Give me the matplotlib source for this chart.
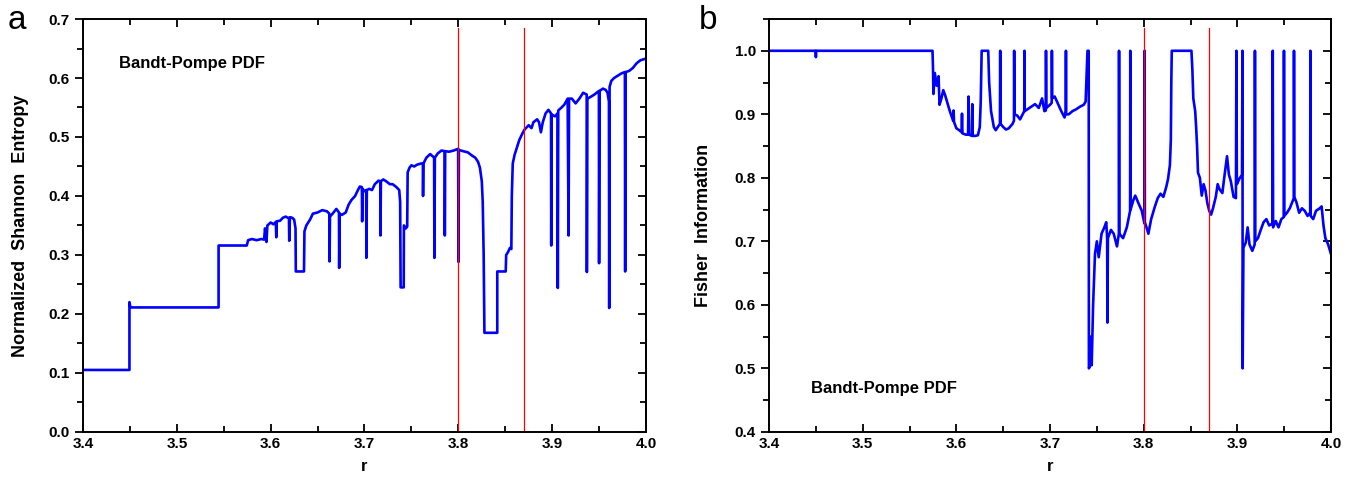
import numpy as np
import matplotlib
matplotlib.use('Agg')
import matplotlib.pyplot as plt
from matplotlib.ticker import MultipleLocator

plt.rcParams['font.family'] = ['Liberation Sans', 'DejaVu Sans']
plt.rcParams['font.weight'] = 'bold'

# DATOS
# panel a: entropia de Shannon normalizada
r_a = [3.400, 3.4495, 3.4495, 3.4505, 3.5445, 3.5445, 3.5745, 3.576, 3.580, 3.585,
       3.590, 3.593, 3.594, 3.5955, 3.5965, 3.600, 3.603, 3.6055, 3.6060, 3.6065,
       3.610, 3.613, 3.616, 3.6195, 3.6198, 3.6205, 3.623, 3.625, 3.6265, 3.6268,
       3.6355, 3.6360, 3.638, 3.642, 3.645, 3.650, 3.655, 3.660, 3.6625, 3.6628,
       3.6632, 3.666, 3.670, 3.6728, 3.6730, 3.6735, 3.676, 3.680, 3.683, 3.686,
       3.690, 3.693, 3.695, 3.6972, 3.6975, 3.6980, 3.700, 3.7018, 3.7020, 3.7025,
       3.705, 3.708, 3.711, 3.715, 3.7168, 3.7170, 3.7175, 3.720, 3.723, 3.727,
       3.730, 3.734, 3.737, 3.738, 3.7385, 3.7418, 3.742, 3.744, 3.7455, 3.746,
       3.748, 3.750, 3.753, 3.756, 3.760, 3.7622, 3.7624, 3.7628, 3.766, 3.770,
       3.7742, 3.7745, 3.7750, 3.778, 3.782, 3.7854, 3.7856, 3.7860, 3.790, 3.795,
       3.7998, 3.8002, 3.8006, 3.805, 3.810, 3.815, 3.818, 3.821, 3.823, 3.825,
       3.826, 3.827, 3.8278, 3.8415, 3.8415, 3.8505, 3.851, 3.853, 3.855, 3.8565,
       3.857, 3.858, 3.860, 3.862, 3.865, 3.868, 3.8703, 3.872, 3.875, 3.878,
       3.880, 3.884, 3.886, 3.888, 3.890, 3.893, 3.896, 3.8988, 3.8990, 3.8995,
       3.903, 3.9057, 3.9060, 3.9065, 3.910, 3.913, 3.9165, 3.9175, 3.9180, 3.921,
       3.925, 3.929, 3.933, 3.9368, 3.9370, 3.9375, 3.941, 3.945, 3.9498, 3.9500,
       3.9505, 3.954, 3.957, 3.959, 3.9605, 3.9608, 3.9612, 3.963, 3.966, 3.970,
       3.974, 3.9775, 3.9778, 3.9782, 3.982, 3.986, 3.990, 3.994, 4.000]
H_a = [0.105, 0.105, 0.220, 0.211, 0.211, 0.316, 0.316, 0.325, 0.327, 0.325,
       0.327, 0.326, 0.345, 0.322, 0.350, 0.355, 0.352, 0.356, 0.330, 0.357,
       0.358, 0.363, 0.365, 0.362, 0.324, 0.364, 0.363, 0.360, 0.345, 0.272,
       0.272, 0.340, 0.350, 0.360, 0.370, 0.372, 0.376, 0.374, 0.370, 0.289,
       0.365, 0.370, 0.378, 0.372, 0.278, 0.370, 0.368, 0.372, 0.385, 0.393,
       0.400, 0.410, 0.416, 0.415, 0.357, 0.412, 0.408, 0.410, 0.295, 0.410,
       0.412, 0.410, 0.420, 0.426, 0.425, 0.333, 0.425, 0.428, 0.425, 0.420,
       0.420, 0.415, 0.410, 0.390, 0.245, 0.245, 0.350, 0.345, 0.348, 0.440,
       0.448, 0.452, 0.450, 0.453, 0.455, 0.455, 0.400, 0.455, 0.465, 0.471,
       0.465, 0.295, 0.465, 0.472, 0.477, 0.476, 0.333, 0.476, 0.475, 0.477,
       0.480, 0.288, 0.478, 0.476, 0.474, 0.468, 0.465, 0.458, 0.448, 0.425,
       0.390, 0.300, 0.168, 0.168, 0.272, 0.272, 0.300, 0.305, 0.312, 0.310,
       0.400, 0.455, 0.470, 0.480, 0.495, 0.505, 0.512, 0.515, 0.520, 0.515,
       0.525, 0.530, 0.525, 0.508, 0.525, 0.540, 0.546, 0.540, 0.316, 0.538,
       0.535, 0.540, 0.244, 0.545, 0.550, 0.555, 0.565, 0.333, 0.565, 0.565,
       0.557, 0.565, 0.575, 0.572, 0.271, 0.565, 0.568, 0.572, 0.578, 0.286,
       0.578, 0.582, 0.580, 0.575, 0.560, 0.210, 0.585, 0.595, 0.600, 0.604,
       0.608, 0.610, 0.272, 0.610, 0.612, 0.617, 0.625, 0.630, 0.633]

# panel b: informacion de Fisher
r_b = [3.400, 3.4498, 3.4500, 3.4502, 3.5745, 3.5750, 3.5755, 3.577, 3.579, 3.581,
       3.582, 3.584, 3.586, 3.588, 3.590, 3.593, 3.5965, 3.5970, 3.5975, 3.600,
       3.603, 3.6055, 3.6060, 3.6065, 3.610, 3.6125, 3.6130, 3.6135, 3.6165, 3.6170,
       3.6175, 3.620, 3.623, 3.625, 3.626, 3.627, 3.634, 3.635, 3.637, 3.640,
       3.642, 3.6465, 3.6468, 3.6472, 3.650, 3.653, 3.656, 3.660, 3.6615, 3.6617,
       3.6620, 3.665, 3.668, 3.6725, 3.6727, 3.6730, 3.676, 3.680, 3.684, 3.688,
       3.6915, 3.694, 3.6955, 3.6957, 3.6960, 3.700, 3.7018, 3.7020, 3.7023, 3.705,
       3.708, 3.712, 3.7155, 3.7168, 3.7170, 3.7172, 3.720, 3.724, 3.728, 3.732,
       3.736, 3.738, 3.739, 3.740, 3.7413, 3.7415, 3.743, 3.7435, 3.7445, 3.746,
       3.748, 3.750, 3.752, 3.755, 3.758, 3.760, 3.7610, 3.7613, 3.7618, 3.765,
       3.768, 3.7715, 3.7735, 3.7737, 3.7740, 3.778, 3.782, 3.785, 3.7855, 3.7857,
       3.7860, 3.789, 3.791, 3.795, 3.798, 3.8008, 3.8010, 3.8013, 3.803, 3.805,
       3.808, 3.812, 3.815, 3.818, 3.821, 3.824, 3.826, 3.828, 3.829, 3.8295,
       3.830, 3.851, 3.852, 3.853, 3.855, 3.856, 3.857, 3.858, 3.860, 3.862,
       3.864, 3.866, 3.868, 3.870, 3.872, 3.874, 3.877, 3.879, 3.881, 3.884,
       3.886, 3.889, 3.891, 3.893, 3.896, 3.8985, 3.8990, 3.8995, 3.902, 3.9050,
       3.9055, 3.9057, 3.9065, 3.909, 3.911, 3.913, 3.916, 3.9185, 3.9188, 3.9192,
       3.922, 3.925, 3.928, 3.931, 3.934, 3.9375, 3.9378, 3.9382, 3.941, 3.944,
       3.947, 3.9495, 3.9498, 3.9502, 3.953, 3.956, 3.9603, 3.9605, 3.9608, 3.963,
       3.966, 3.969, 3.972, 3.975, 3.9778, 3.9780, 3.9783, 3.981, 3.984, 3.988,
       3.990, 3.992, 3.994, 3.997, 4.000]
F_b = [1.000, 1.000, 0.990, 1.000, 1.000, 0.975, 0.932, 0.965, 0.945, 0.960,
       0.915, 0.925, 0.938, 0.930, 0.920, 0.905, 0.890, 0.906, 0.888, 0.878,
       0.875, 0.872, 0.901, 0.870, 0.868, 0.868, 0.928, 0.868, 0.866, 0.916,
       0.866, 0.866, 0.867, 0.880, 0.920, 1.000, 1.000, 0.950, 0.905, 0.880,
       0.875, 0.885, 1.000, 0.885, 0.880, 0.876, 0.878, 0.885, 0.890, 1.000,
       0.900, 0.898, 0.892, 0.905, 1.000, 0.905, 0.908, 0.912, 0.916, 0.910,
       0.925, 0.905, 0.906, 1.000, 0.910, 0.915, 0.918, 1.000, 0.925, 0.928,
       0.918, 0.905, 0.895, 0.905, 1.000, 0.900, 0.900, 0.905, 0.908, 0.912,
       0.915, 0.920, 0.960, 1.000, 1.000, 0.500, 0.505, 0.550, 0.505, 0.600,
       0.680, 0.700, 0.675, 0.712, 0.722, 0.730, 0.705, 0.572, 0.705, 0.718,
       0.712, 0.692, 0.712, 1.000, 0.712, 0.705, 0.722, 0.745, 0.748, 1.000,
       0.750, 0.765, 0.772, 0.758, 0.748, 0.728, 1.000, 0.730, 0.722, 0.712,
       0.735, 0.755, 0.768, 0.775, 0.770, 0.785, 0.798, 0.820, 0.860, 0.950,
       1.000, 1.000, 0.970, 0.925, 0.905, 0.880, 0.850, 0.808, 0.800, 0.772,
       0.790, 0.780, 0.760, 0.748, 0.742, 0.752, 0.770, 0.790, 0.782, 0.776,
       0.800, 0.834, 0.805, 0.795, 0.770, 0.768, 1.000, 0.790, 0.798, 0.805,
       1.000, 0.500, 0.690, 0.698, 0.722, 0.695, 0.685, 0.695, 1.000, 0.700,
       0.705, 0.718, 0.730, 0.735, 0.725, 0.728, 1.000, 0.722, 0.732, 0.722,
       0.735, 0.738, 1.000, 0.740, 0.745, 0.752, 0.768, 1.000, 0.770, 0.762,
       0.745, 0.752, 0.748, 0.740, 0.745, 1.000, 0.740, 0.735, 0.748, 0.752,
       0.755, 0.725, 0.705, 0.695, 0.680]

# valores de r marcados en rojo
r_marcas = [3.80, 3.87]

# GRAFICA
fig = plt.figure(figsize=(13.54, 4.88), dpi=100)
ax1 = fig.add_axes([0.0613, 0.115, 0.4158, 0.846])
ax2 = fig.add_axes([0.568, 0.115, 0.415, 0.846])


def formato(ax, ylim, ymajor):
    ax.set_xlim(3.4, 4.0)
    ax.set_ylim(*ylim)
    ax.xaxis.set_major_locator(MultipleLocator(0.1))
    ax.xaxis.set_minor_locator(MultipleLocator(0.05))
    ax.yaxis.set_major_locator(MultipleLocator(ymajor))
    ax.yaxis.set_minor_locator(MultipleLocator(ymajor / 2))
    ax.xaxis.set_major_formatter(plt.FormatStrFormatter('%.1f'))
    ax.yaxis.set_major_formatter(plt.FormatStrFormatter('%.1f'))
    ax.tick_params(axis='x', which='both', direction='in', top=True, labelsize=11, width=1.3)
    ax.tick_params(axis='y', which='both', direction='out', right=False, labelsize=11, width=1.3)
    ax.tick_params(which='major', length=6)
    ax.tick_params(which='minor', length=4)
    for s in ax.spines.values():
        s.set_linewidth(1.4)
    # eje derecho con marcas hacia dentro
    sec = ax.secondary_yaxis('right')
    sec.yaxis.set_major_locator(MultipleLocator(ymajor))
    sec.yaxis.set_minor_locator(MultipleLocator(ymajor / 2))
    sec.tick_params(which='both', direction='in', labelright=False, width=1.3)
    sec.tick_params(which='major', length=6)
    sec.tick_params(which='minor', length=4)
    sec.spines['right'].set_linewidth(1.4)
    for lbl in ax.get_xticklabels() + ax.get_yticklabels():
        lbl.set_fontweight('bold')


# panel a
ax1.plot(r_a, H_a, color='#0000ff', lw=1.9)
for rm in r_marcas:
    ax1.plot([rm, rm], [0.0, 0.685], color='red', lw=0.9)
formato(ax1, (0.0, 0.7), 0.1)
ax1.set_xlabel('r', fontsize=12, fontweight='bold', labelpad=6)
ax1.set_ylabel('Normalized  Shannon  Entropy', fontsize=13, fontweight='bold', labelpad=14)
ax1.text(3.438, 0.625, 'Bandt-Pompe PDF', fontsize=12, fontweight='bold', va='center')

# panel b
ax2.plot(r_b, F_b, color='#0000ff', lw=1.9)
for rm in r_marcas:
    ax2.plot([rm, rm], [0.4, 1.036], color='red', lw=0.9)
formato(ax2, (0.4, 1.05), 0.1)
ax2.set_xlabel('r', fontsize=12, fontweight='bold', labelpad=6)
ax2.set_ylabel('Fisher  Information', fontsize=13, fontweight='bold', labelpad=16)
ax2.text(3.4445, 0.469, 'Bandt-Pompe PDF', fontsize=12, fontweight='bold', va='center')

fig.text(0.006, 0.958, 'a', fontsize=24, fontweight='normal', va='center')
fig.text(0.516, 0.958, 'b', fontsize=24, fontweight='normal', va='center')

plt.savefig('out.png', dpi=100)
